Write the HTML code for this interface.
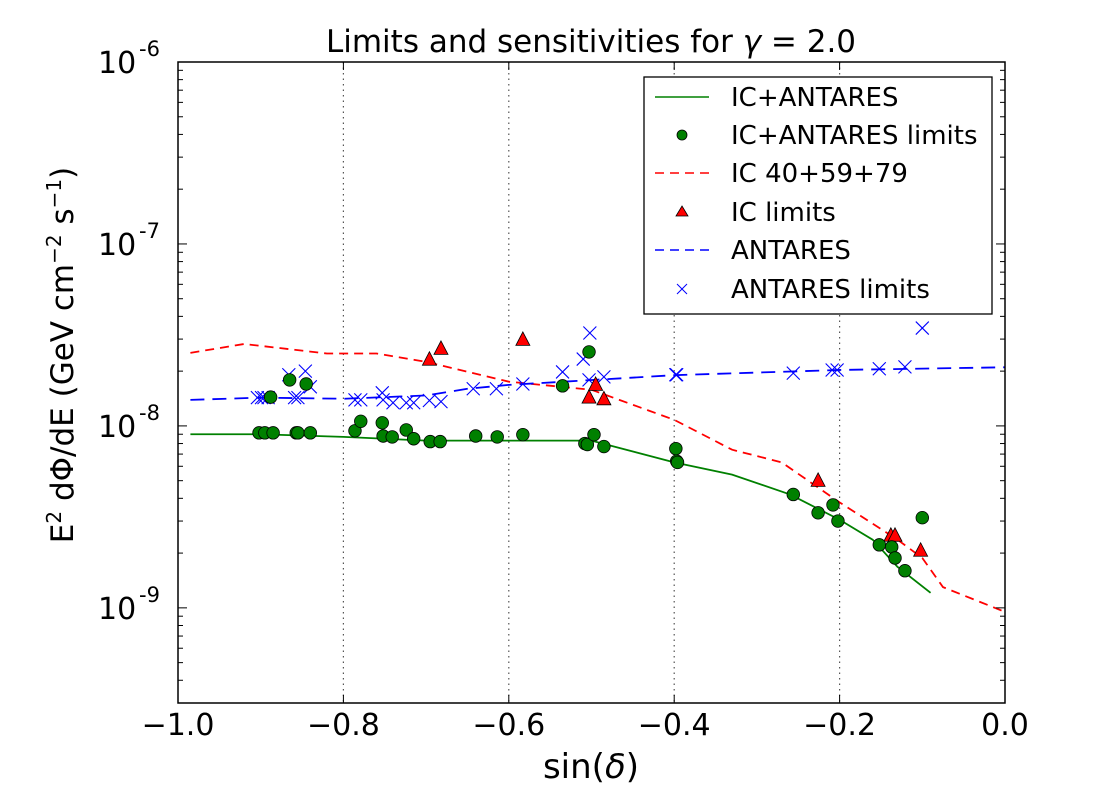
<!DOCTYPE html>
<html><head><meta charset="utf-8"><style>
html,body{margin:0;padding:0;background:#fff;}
svg{display:block;font-family:"DejaVu Sans","Liberation Sans",sans-serif;}
</style></head><body>
<svg id="chart" width="1110" height="794" xmlns="http://www.w3.org/2000/svg">
<rect width="1110" height="794" fill="#fff"/>
<g id="grid"></g>
<g id="series"></g>
<rect x="178" y="62" width="827" height="641" fill="none" stroke="#000" stroke-width="1.5"/>
<g id="axes"></g>
<text x="591" y="52" font-size="31" text-anchor="middle">Limits and sensitivities for <tspan font-style="italic">γ</tspan> = 2.0</text>
<text x="591" y="778" font-size="34" text-anchor="middle">sin(<tspan font-style="italic">δ</tspan>)</text>
<text transform="translate(73,355) rotate(-90)" font-size="31" text-anchor="middle">E<tspan baseline-shift="super" font-size="20">2</tspan> dΦ/dE (GeV cm<tspan baseline-shift="super" font-size="20">−2</tspan> s<tspan baseline-shift="super" font-size="20">−1</tspan>)</text>
<g>
<rect x="644" y="77" width="348" height="237" fill="#fff" stroke="#000" stroke-width="1.3"/>
<line x1="655" y1="97" x2="709" y2="97" stroke="#008000" stroke-width="1.5"/>
<text x="731" y="106" font-size="26">IC+ANTARES</text>
<circle cx="682" cy="135" r="5" fill="#008000" stroke="#000" stroke-width="0.8"/>
<text x="731" y="144" font-size="26">IC+ANTARES limits</text>
<line x1="655" y1="173" x2="709" y2="173" stroke="#f00" stroke-width="1.5" stroke-dasharray="9,6"/>
<text x="731" y="182" font-size="26">IC 40+59+79</text>
<path d="M682,206 L688,216 L676,216 Z" fill="#f00" stroke="#000" stroke-width="0.8"/>
<text x="731" y="221" font-size="26">IC limits</text>
<line x1="655" y1="250" x2="709" y2="250" stroke="#00f" stroke-width="1.5" stroke-dasharray="9,6"/>
<text x="731" y="259" font-size="26">ANTARES</text>
<path d="M677,284 L687,294 M687,284 L677,294" stroke="#00f" stroke-width="1"/>
<text x="731" y="298" font-size="26">ANTARES limits</text>
</g>
</svg>
<script>
const xTicks = [-1.0, -0.8, -0.6, -0.4, -0.2, 0.0];
const xTickLabels = ["\u22121.0", "\u22120.8", "\u22120.6", "\u22120.4", "\u22120.2", "0.0"];
const yDecades = [-9, -8, -7, -6];
const yTickLabels = ["10", "10", "10", "10"];
const yTickExps = ["-9", "-8", "-7", "-6"];

const comboLineX = [-0.985, -0.9, -0.8, -0.7, -0.6, -0.5, -0.4, -0.33, -0.26, -0.2, -0.16, -0.13, -0.09];
const comboLineY = [9.0e-9, 9.0e-9, 8.7e-9, 8.3e-9, 8.3e-9, 8.3e-9, 6.3e-9, 5.4e-9, 4.2e-9, 3.05e-9, 2.37e-9, 1.68e-9, 1.21e-9];
const icLineX = [-0.985, -0.92, -0.82, -0.76, -0.7, -0.6, -0.5, -0.4, -0.33, -0.27, -0.2, -0.13, -0.1, -0.075, 0.0];
const icLineY = [2.52e-8, 2.82e-8, 2.5e-8, 2.5e-8, 2.25e-8, 1.75e-8, 1.58e-8, 1.08e-8, 7.4e-9, 6.3e-9, 3.8e-9, 2.37e-9, 1.88e-9, 1.30e-9, 9.5e-10];
const antLineX = [-0.985, -0.9, -0.8, -0.7, -0.65, -0.6, -0.4, -0.2, 0.0];
const antLineY = [1.39e-8, 1.43e-8, 1.41e-8, 1.47e-8, 1.6e-8, 1.68e-8, 1.9e-8, 2.03e-8, 2.1e-8];

const comboX = [-0.902,-0.895,-0.885,-0.865,-0.888,-0.845,-0.857,-0.855,-0.840,-0.786,-0.779,-0.753,-0.752,-0.741,-0.724,-0.715,-0.695,-0.683,-0.640,-0.614,-0.583,-0.535,-0.508,-0.505,-0.503,-0.497,-0.485,-0.398,-0.397,-0.396,-0.256,-0.226,-0.208,-0.202,-0.152,-0.137,-0.133,-0.121,-0.100];
const comboY = [9.16e-9,9.16e-9,9.16e-9,1.79e-8,1.44e-8,1.70e-8,9.16e-9,9.16e-9,9.16e-9,9.4e-9,1.06e-8,1.04e-8,8.8e-9,8.7e-9,9.5e-9,8.5e-9,8.2e-9,8.2e-9,8.8e-9,8.7e-9,8.95e-9,1.66e-8,8.0e-9,7.9e-9,2.55e-8,8.95e-9,7.7e-9,7.5e-9,6.4e-9,6.3e-9,4.2e-9,3.33e-9,3.68e-9,3.0e-9,2.22e-9,2.16e-9,1.88e-9,1.6e-9,3.13e-9];
const icX = [-0.696,-0.682,-0.583,-0.503,-0.495,-0.485,-0.226,-0.138,-0.133,-0.102];
const icY = [2.31e-8,2.65e-8,2.97e-8,1.43e-8,1.68e-8,1.40e-8,4.99e-9,2.49e-9,2.49e-9,2.06e-9];
const antX = [-0.904,-0.899,-0.896,-0.891,-0.866,-0.846,-0.840,-0.859,-0.855,-0.786,-0.779,-0.753,-0.752,-0.740,-0.724,-0.715,-0.696,-0.682,-0.643,-0.615,-0.583,-0.535,-0.510,-0.502,-0.503,-0.485,-0.398,-0.397,-0.256,-0.209,-0.203,-0.152,-0.121,-0.100];
const antY = [1.43e-8,1.43e-8,1.43e-8,1.43e-8,1.91e-8,2.0e-8,1.64e-8,1.43e-8,1.43e-8,1.39e-8,1.39e-8,1.52e-8,1.39e-8,1.34e-8,1.34e-8,1.34e-8,1.38e-8,1.36e-8,1.60e-8,1.60e-8,1.70e-8,1.98e-8,2.33e-8,3.24e-8,1.79e-8,1.86e-8,1.91e-8,1.91e-8,1.95e-8,2.03e-8,2.03e-8,2.06e-8,2.11e-8,3.45e-8];

const NS = "http://www.w3.org/2000/svg";
const X0 = 178, X1 = 1005, Ytop = 62, Ybot = 703;
const logMin = Math.log10(3e-10), logMax = -6;
function xs(v){ return X0 + (v + 1) * (X1 - X0); }
function ys(v){ return Ytop + (logMax - Math.log10(v)) / (logMax - logMin) * (Ybot - Ytop); }
function ysLog(l){ return Ytop + (logMax - l) / (logMax - logMin) * (Ybot - Ytop); }
function mk(tag, parent){ const e = document.createElementNS(NS, tag); parent.appendChild(e); return e; }

const grid = document.getElementById('grid');
const axes = document.getElementById('axes');
const series = document.getElementById('series');

xTicks.forEach((t, i) => {
  const x = xs(t);
  if (i > 0 && i < xTicks.length - 1) {
    const g = mk('line', grid);
    
    
    g.setAttribute('x1', x); g.setAttribute('x2', x); g.setAttribute('y1', Ytop); g.setAttribute('y2', Ybot);
    g.setAttribute('stroke', '#555'); g.setAttribute('stroke-width', '1.2'); g.setAttribute('stroke-dasharray', '1.5,4');
  }
  [[Ybot, Ybot - 8], [Ytop, Ytop + 8]].forEach(p => {
    const tk = mk('line', axes);
    
    
    tk.setAttribute('x1', x); tk.setAttribute('x2', x); tk.setAttribute('y1', p[0]); tk.setAttribute('y2', p[1]);
    tk.setAttribute('stroke', '#000');
  });
  const lb = mk('text', axes);
  
  
  lb.setAttribute('x', x); lb.setAttribute('y', 735); lb.setAttribute('font-size', '30'); lb.setAttribute('text-anchor', 'middle');
  lb.textContent = xTickLabels[i];
});

yDecades.forEach((d, i) => {
  const y = ysLog(d);
  if (d > -6) {
    const g = mk('line', grid);
    
    
    g.setAttribute('x1', X0); g.setAttribute('x2', X1); g.setAttribute('y1', y); g.setAttribute('y2', y);
    g.setAttribute('stroke', '#555'); g.setAttribute('stroke-width', '1.2'); g.setAttribute('stroke-dasharray', '1.5,4');
  }
  [[X0, X0 + 9], [X1, X1 - 9]].forEach(p => {
    const tk = mk('line', axes);
    
    
    tk.setAttribute('x1', p[0]); tk.setAttribute('x2', p[1]); tk.setAttribute('y1', y); tk.setAttribute('y2', y);
    tk.setAttribute('stroke', '#000');
  });
  const lb = mk('text', axes);
  
  
  lb.setAttribute('x', 98); lb.setAttribute('y', y + 11); lb.setAttribute('font-size', '30');
  lb.textContent = yTickLabels[i];
  const ex = mk('text', axes);
  
  
  ex.setAttribute('x', 139); ex.setAttribute('y', y - 6); ex.setAttribute('font-size', '21');
  ex.textContent = yTickExps[i];
});
for (let d = -10; d <= -7; d++) {
  for (let m = 2; m <= 9; m++) {
    const l = d + Math.log10(m);
    if (l < logMin || l > logMax) continue;
    const y = ysLog(l);
    [[X0, X0 + 5], [X1, X1 - 5]].forEach(p => {
      const tk = mk('line', axes);
      
      
      tk.setAttribute('x1', p[0]); tk.setAttribute('x2', p[1]); tk.setAttribute('y1', y); tk.setAttribute('y2', y);
      tk.setAttribute('stroke', '#000');
    });
  }
}

function drawLine(xa, ya, color, dash, name) {
  const p = mk('polyline', series);
  
  
  p.setAttribute('points', xa.map((v, i) => xs(v) + ',' + ys(ya[i])).join(' '));
  p.setAttribute('fill', 'none'); p.setAttribute('stroke', color); p.setAttribute('stroke-width', '1.8');
  if (dash) p.setAttribute('stroke-dasharray', dash);
}
drawLine(comboLineX, comboLineY, '#008000', null, 'ic-antares-line');
drawLine(icLineX, icLineY, '#f00', '9,6', 'ic-sensitivity-line');
drawLine(antLineX, antLineY, '#00f', '14,8', 'antares-sensitivity-line');

antX.forEach((v, i) => {
  const x = xs(v), y = ys(antY[i]);
  const p = mk('path', series);
  
  
  p.setAttribute('d', `M${x-6.5},${y-6.5} L${x+6.5},${y+6.5} M${x+6.5},${y-6.5} L${x-6.5},${y+6.5}`);
  p.setAttribute('stroke', '#00f'); p.setAttribute('stroke-width', '1.1');
});
icX.forEach((v, i) => {
  const x = xs(v), y = ys(icY[i]);
  const p = mk('path', series);
  
  
  p.setAttribute('d', `M${x},${y-8} L${x+7},${y+5.5} L${x-7},${y+5.5} Z`);
  p.setAttribute('fill', '#f00'); p.setAttribute('stroke', '#000'); p.setAttribute('stroke-width', '0.8');
});
comboX.forEach((v, i) => {
  const c = mk('circle', series);
  
  
  c.setAttribute('cx', xs(v)); c.setAttribute('cy', ys(comboY[i])); c.setAttribute('r', '6.3');
  c.setAttribute('fill', '#008000'); c.setAttribute('stroke', '#000'); c.setAttribute('stroke-width', '0.8');
});
</script>
</body></html>
